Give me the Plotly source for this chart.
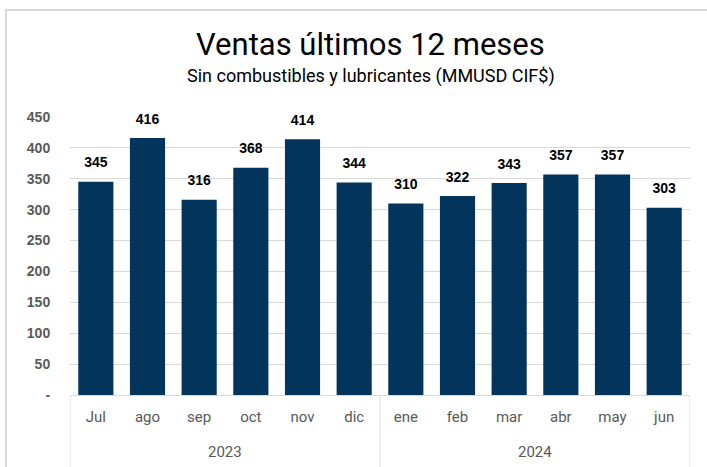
import plotly.graph_objects as go

months = ["Jul", "ago", "sep", "oct", "nov", "dic", "ene", "feb", "mar", "abr", "may", "jun"]
ventas = [345, 416, 316, 368, 414, 344, 310, 322, 343, 357, 357, 303]
year_labels = ["2023", "2024"]
year_counts = [6, 6]
yticks = [0, 50, 100, 150, 200, 250, 300, 350, 400, 450]
yticklabels = ["-"] + [str(v) for v in yticks[1:]]

bar_color = "#02345C"
grid_color = "#D9D9D9"
narrow = "Roboto, Arial"

fig = go.Figure()
fig.add_trace(go.Bar(x=months, y=ventas, marker=dict(color=bar_color, line=dict(width=0)),
                     hoverinfo="skip"))
# etiquetas de datos (marcador invisible para separar el texto de la barra)
fig.add_trace(go.Scatter(x=months, y=ventas, mode="markers+text",
                         text=[str(v) for v in ventas], textposition="top center",
                         marker=dict(size=16, opacity=0),
                         textfont=dict(family="Liberation Sans, Arial", size=14, color="#000000", weight="bold"),
                         cliponaxis=False, hoverinfo="skip"))

fig.update_layout(
    width=707, height=467,
    margin=dict(l=70, r=17, t=117, b=72),
    plot_bgcolor="white", paper_bgcolor="white",
    showlegend=False, bargap=0.32,
)
fig.update_yaxes(range=[0, 450], tickvals=yticks, ticktext=yticklabels,
                 showgrid=True, gridcolor=grid_color, gridwidth=1, zeroline=False,
                 ticks="outside", ticklen=16, tickcolor="white", automargin=False,
                 tickfont=dict(family="Liberation Sans, Arial", size=14, color="#595959", weight="bold"),
                 fixedrange=True)
fig.update_xaxes(range=[-0.5, len(months) - 0.5],
                 showline=True, linecolor=grid_color, linewidth=1, automargin=False,
                 ticks="outside", ticklen=8, tickcolor="white",
                 tickfont=dict(family=narrow, size=15, color="#595959"),
                 fixedrange=True)

# títulos
fig.add_annotation(text="Ventas últimos 12 meses", xref="paper", yref="paper",
                   x=(370 - 70) / 620, y=(395 - 44) / 278, xanchor="center", yanchor="middle",
                   showarrow=False, font=dict(family=narrow, size=31, color="#000000"))
fig.add_annotation(text="Sin combustibles y lubricantes (MMUSD CIF$)", xref="paper", yref="paper",
                   x=(371 - 70) / 620, y=(395 - 76) / 278, xanchor="center", yanchor="middle",
                   showarrow=False, font=dict(family=narrow, size=18, color="#000000"))

# años y divisores
start = 0
for label, n in zip(year_labels, year_counts):
    fig.add_annotation(text=label, x=start + (n - 1) / 2, xref="x", y=(395 - 452) / 278, yref="paper",
                       showarrow=False, yanchor="middle",
                       font=dict(family=narrow, size=15, color="#595959"))
    start += n
edges = [-0.5]
for n in year_counts:
    edges.append(edges[-1] + n)
for e in edges:
    fig.add_shape(type="line", x0=e, x1=e, xref="x", y0=0, y1=-0.26, yref="paper",
                  line=dict(color=grid_color, width=1))

# borde del gráfico
fig.add_shape(type="rect", xref="paper", yref="paper",
              x0=-64 / 620, x1=1.05, y0=-0.3, y1=(395 - 10) / 278,
              line=dict(color=grid_color, width=2), fillcolor="rgba(0,0,0,0)", layer="below")

fig.write_html("out.html", config={"displayModeBar": False},
               post_script="document.body.style.margin='0';")
